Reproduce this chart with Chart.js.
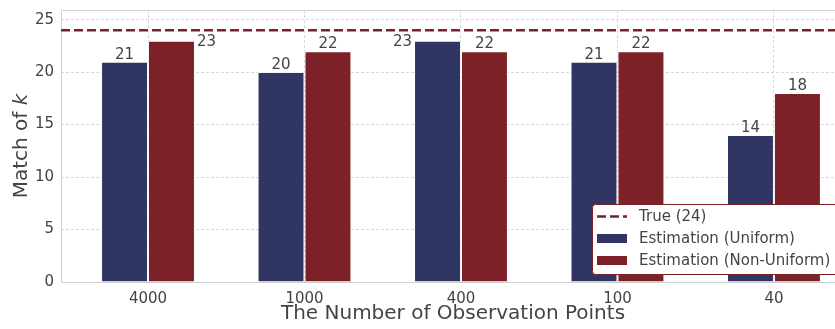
<!DOCTYPE html>
<html>
<head>
<meta charset="utf-8">
<script src="https://cdn.jsdelivr.net/npm/chart.js@4.4.1/dist/chart.umd.min.js"></script>
<style>
  html, body { margin: 0; padding: 0; background: #fff; overflow: hidden; }
  #wrap { position: relative; width: 854px; height: 329px; }
</style>
</head>
<body>
<div id="wrap"><canvas id="c"></canvas></div>
<script>
// Observation-point counts and how many of the true k were matched
const CATEGORIES = ['4000', '1000', '400', '100', '40'];
const UNIFORM = [21, 20, 23, 21, 14];
const NON_UNIFORM = [23, 22, 22, 22, 18];
const TRUE_K = 24;
const Y_TICKS = [0, 5, 10, 15, 20, 25];

const X_MIN = -0.556, X_MAX = 4.454;
const Y_MAX = 25.92;

const NAVY = '#313563';
const RED = '#7b2127';
const TEXT = '#444444';
const FONT = '"DejaVu Sans", sans-serif';
const TITLE_SIZE = 20;

const toPoints = vals => vals.map((v, i) => ({ x: i, y: v }));

// Frame, value labels, axis titles and the legend box
const decor = {
  id: 'decor',
  beforeDatasetsDraw(chart) {
    const { ctx, chartArea: a } = chart;
    ctx.save();
    ctx.strokeStyle = '#d0d0d0';
    ctx.lineWidth = 1;
    ctx.beginPath();
    ctx.moveTo(a.left + 0.5, a.bottom);
    ctx.lineTo(a.left + 0.5, a.top + 0.5);
    ctx.lineTo(a.right, a.top + 0.5);
    ctx.stroke();
    ctx.beginPath();
    ctx.moveTo(a.left, a.bottom + 0.5);
    ctx.lineTo(a.right, a.bottom + 0.5);
    ctx.stroke();
    ctx.restore();
  },
  afterDatasetsDraw(chart) {
    const { ctx, chartArea: a, scales } = chart;
    const lineY = scales.y.getPixelForValue(TRUE_K);
    ctx.save();
    ctx.fillStyle = TEXT;
    ctx.font = '15px ' + FONT;
    [1, 2].forEach((di, k) => {
      const meta = chart.getDatasetMeta(di);
      meta.data.forEach((bar, i) => {
        const v = chart.data.datasets[di].data[i].y;
        const half = bar.width / 2;
        const labelTop = bar.y - 16;
        if (labelTop < lineY + 3) {
          // too close to the reference line: put the number beside the bar
          ctx.textBaseline = 'middle';
          if (k === 0) { ctx.textAlign = 'right'; ctx.fillText(String(v), bar.x - half - 2, bar.y + 1); }
          else { ctx.textAlign = 'left'; ctx.fillText(String(v), bar.x + half + 2, bar.y + 1); }
        } else {
          ctx.textAlign = 'center';
          ctx.textBaseline = 'alphabetic';
          ctx.fillText(String(v), bar.x, bar.y - 3);
        }
      });
    });

    // axis titles
    const xs = scales.x;
    ctx.fillStyle = TEXT;
    ctx.textBaseline = 'middle';
    ctx.textAlign = 'center';
    ctx.font = TITLE_SIZE + 'px ' + FONT;
    ctx.fillText('The Number of Observation Points', (xs.left + xs.right) / 2, 314);

    ctx.save();
    ctx.translate(22, (a.top + a.bottom) / 2);
    ctx.rotate(-Math.PI / 2);
    const main = 'Match of ';
    ctx.font = TITLE_SIZE + 'px ' + FONT;
    const w1 = ctx.measureText(main).width;
    ctx.font = 'italic ' + TITLE_SIZE + 'px ' + FONT;
    const w2 = ctx.measureText('k').width;
    const x0 = -(w1 + w2) / 2;
    ctx.textAlign = 'left';
    ctx.font = TITLE_SIZE + 'px ' + FONT;
    ctx.fillText(main, x0, 0);
    ctx.font = 'italic ' + TITLE_SIZE + 'px ' + FONT;
    ctx.fillText('k', x0 + w1, 0);
    ctx.restore();

    // legend
    const ds = chart.data.datasets;
    const bx = 592, by = 204, bw = a.right - 5 - bx, bh = 70;
    ctx.fillStyle = '#ffffff';
    ctx.strokeStyle = RED;
    ctx.lineWidth = 1;
    ctx.beginPath();
    ctx.roundRect(bx + 0.5, by + 0.5, bw, bh, 3);
    ctx.fill();
    ctx.stroke();
    ctx.font = '15px ' + FONT;
    ctx.textAlign = 'left';
    ctx.textBaseline = 'middle';
    ds.forEach((d, i) => {
      const cy = by + 12.5 + i * 22;
      if (d.type === 'line') {
        ctx.strokeStyle = d.borderColor;
        ctx.lineWidth = d.borderWidth;
        ctx.setLineDash(d.borderDash);
        ctx.beginPath();
        ctx.moveTo(bx + 5, cy);
        ctx.lineTo(bx + 35, cy);
        ctx.stroke();
        ctx.setLineDash([]);
      } else {
        ctx.fillStyle = d.backgroundColor;
        ctx.fillRect(bx + 5, cy - 4.5, 30, 9);
      }
      ctx.fillStyle = TEXT;
      ctx.fillText(d.label, bx + 47, cy + 1);
    });
    ctx.restore();
  }
};

const noEdgePadding = s => { s.paddingTop = 0; s.paddingBottom = 0; s.paddingLeft = 0; s.paddingRight = 0; };

new Chart(document.getElementById('c'), {
  data: {
    datasets: [
      {
        type: 'line',
        label: 'True (' + TRUE_K + ')',
        data: [{ x: X_MIN, y: TRUE_K }, { x: X_MAX, y: TRUE_K }],
        borderColor: RED,
        borderWidth: 2.5,
        borderDash: [9, 4],
        pointRadius: 0,
        order: 0
      },
      {
        type: 'bar',
        label: 'Estimation (Uniform)',
        data: toPoints(UNIFORM),
        backgroundColor: NAVY,
        borderColor: 'rgba(255,255,255,0.55)',
        borderWidth: 1,
        categoryPercentage: 0.6,
        barPercentage: 1.0,
        order: 1
      },
      {
        type: 'bar',
        label: 'Estimation (Non-Uniform)',
        data: toPoints(NON_UNIFORM),
        backgroundColor: RED,
        borderColor: 'rgba(255,255,255,0.55)',
        borderWidth: 1,
        categoryPercentage: 0.6,
        barPercentage: 1.0,
        order: 1
      }
    ]
  },
  options: {
    responsive: true,
    maintainAspectRatio: false,
    animation: false,
    events: [],
    layout: { padding: { top: 10, right: 9, left: 0, bottom: 0 } },
    plugins: { legend: { display: false }, tooltip: { enabled: false } },
    scales: {
      x: {
        type: 'linear',
        offset: false,
        min: X_MIN,
        max: X_MAX,
        afterBuildTicks: s => { s.ticks = CATEGORIES.map((_, i) => ({ value: i })); },
        afterFit: s => { s.height = 47; noEdgePadding(s); },
        ticks: {
          callback: v => CATEGORIES[v],
          color: TEXT,
          font: { family: FONT, size: 15 },
          padding: 8,
          maxRotation: 0
        },
        grid: { offset: false, color: '#d9d9d9', lineWidth: 1, drawTicks: false },
        border: { display: false, dash: [3, 2] }
      },
      y: {
        min: 0,
        max: Y_MAX,
        afterBuildTicks: s => { s.ticks = Y_TICKS.map(v => ({ value: v })); },
        afterFit: s => { s.width = 61; noEdgePadding(s); },
        ticks: {
          color: TEXT,
          font: { family: FONT, size: 15 },
          padding: 7
        },
        grid: { color: '#d9d9d9', lineWidth: 1, drawTicks: false },
        border: { display: false, dash: [3, 2] }
      }
    }
  },
  plugins: [decor]
});
</script>
</body>
</html>
